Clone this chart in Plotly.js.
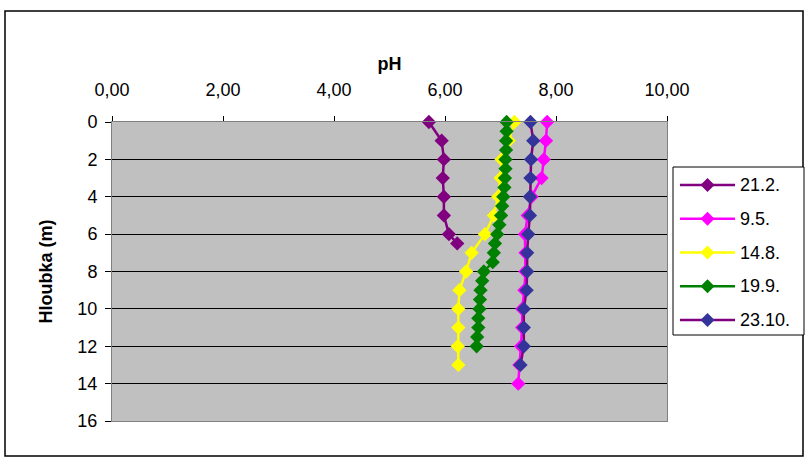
<!DOCTYPE html>
<html>
<head>
<meta charset="utf-8">
<script src="https://cdn.plot.ly/plotly-3.0.1.min.js"></script>
<style>html,body{margin:0;padding:0;background:#fff;}#chart{width:805px;height:457px;}</style>
</head>
<body>
<div id="chart"></div>
<script>
// Series names
const seriesNames = ['21.2.', '9.5.', '14.8.', '19.9.', '23.10.'];

// Depths (m) and pH values
const depth_212 = [0, 1, 2, 3, 4, 5, 6, 6.5];
const ph_212    = [5.71, 5.94, 5.98, 5.96, 5.98, 5.98, 6.07, 6.22];

const depth_95 = [0, 1, 2, 3, 4, 5, 6, 7, 8, 9, 10, 11, 12, 13, 14];
const ph_95    = [7.84, 7.82, 7.78, 7.74, 7.56, 7.49, 7.44, 7.45, 7.45, 7.43, 7.39, 7.39, 7.37, 7.34, 7.32];

const depth_148 = [0, 1, 2, 3, 4, 5, 6, 7, 8, 9, 10, 11, 12, 13];
const ph_148    = [7.25, 7.15, 7.02, 7.00, 6.96, 6.88, 6.72, 6.48, 6.38, 6.26, 6.24, 6.24, 6.23, 6.24];

const depth_199 = [0, 0.5, 1, 1.5, 2, 2.5, 3, 3.5, 4, 4.5, 5, 5.5, 6, 6.5, 7, 7.5, 8, 8.5, 9, 9.5, 10, 10.5, 11, 11.5, 12];
const ph_199    = [7.11, 7.11, 7.10, 7.10, 7.09, 7.09, 7.08, 7.07, 7.05, 7.03, 7.01, 6.98, 6.94, 6.90, 6.88, 6.86, 6.70, 6.67, 6.64, 6.63, 6.62, 6.60, 6.60, 6.58, 6.57];

const depth_2310 = [0, 1, 2, 3, 4, 5, 6, 7, 8, 9, 10, 11, 12, 13];
const ph_2310    = [7.54, 7.59, 7.55, 7.54, 7.53, 7.53, 7.50, 7.48, 7.48, 7.47, 7.42, 7.42, 7.42, 7.36];

const xTickVals = [0, 2, 4, 6, 8, 10];
const yTickVals = [0, 2, 4, 6, 8, 10, 12, 14, 16];

const lineColors   = ['#800080', '#FF00FF', '#FFFF00', '#008000', '#800080'];
const markerColors = ['#800080', '#FF00FF', '#FFFF00', '#008000', '#333399'];

const xs = [ph_212, ph_95, ph_148, ph_199, ph_2310];
const ys = [depth_212, depth_95, depth_148, depth_199, depth_2310];

const traces = seriesNames.map((n, i) => ({
  type: 'scatter',
  mode: 'lines+markers',
  name: n,
  showlegend: false,
  x: xs[i],
  y: ys[i],
  line: {color: lineColors[i], width: 2.5},
  marker: {symbol: 'diamond', size: 11, color: markerColors[i], line: {width: 0}},
  cliponaxis: false
}));

const font = {family: 'Liberation Sans, Arial, sans-serif', size: 18, color: '#000'};

// plot area in pixels (fixed margins)
const L = 112, R = 667, T = 122, B = 421;
const px = v => (v - L) / (R - L);
const py = v => (B - v) / (B - T);

// Legend (drawn as shapes + text annotations)
const legTop = 167, legBottom = 335, legLeft = 673, legRight = 804;
const legY0 = 185, legStep = 33.75;
const shapes = [{
  type: 'rect', xref: 'paper', yref: 'paper',
  x0: px(5), x1: px(803), y0: py(456), y1: py(11),
  line: {color: '#000', width: 1.5}, fillcolor: 'rgba(0,0,0,0)', layer: 'below'
}, {
  type: 'rect', xref: 'paper', yref: 'paper',
  x0: px(legLeft), x1: px(legRight), y0: py(legBottom), y1: py(legTop),
  line: {color: '#000', width: 1}, fillcolor: '#fff', layer: 'above'
}];
const annotations = [];
seriesNames.forEach((n, i) => {
  const yy = legY0 + i * legStep;
  shapes.push({
    type: 'line', xref: 'paper', yref: 'paper',
    x0: px(680), x1: px(735), y0: py(yy), y1: py(yy),
    line: {color: lineColors[i], width: 2.5}, layer: 'above'
  });
  shapes.push({
    type: 'path', xref: 'paper', yref: 'paper',
    xsizemode: 'pixel', ysizemode: 'pixel',
    xanchor: px(707.5), yanchor: py(yy),
    path: 'M-7,0 L0,7 L7,0 L0,-7 Z',
    fillcolor: markerColors[i], line: {width: 0}, layer: 'above'
  });
  annotations.push({
    xref: 'paper', yref: 'paper', x: px(738), y: py(yy),
    xanchor: 'left', yanchor: 'middle', showarrow: false,
    text: n, font: font
  });
});

const layout = {
  width: 805, height: 457,
  margin: {l: L, r: 805 - R, t: T, b: 457 - B, autoexpand: false},
  paper_bgcolor: '#fff',
  plot_bgcolor: '#C0C0C0',
  separators: ', ',
  font: font,
  showlegend: false,
  xaxis: {
    side: 'top',
    range: [0, 10],
    tickvals: xTickVals,
    tickformat: '.2f',
    ticks: 'outside', ticklen: 5, tickcolor: '#000', tickwidth: 1,
    ticklabelstandoff: 13,
    showgrid: false, zeroline: false,
    showline: true, linecolor: '#808080', linewidth: 1, mirror: true,
    tickfont: font,
    title: {text: '<b>pH</b>', font: font, standoff: 4}
  },
  yaxis: {
    range: [16, 0],
    tickvals: yTickVals,
    ticks: 'outside', ticklen: 6, tickcolor: '#000', tickwidth: 1,
    ticklabelstandoff: 4,
    showgrid: true, gridcolor: '#000', gridwidth: 1,
    zeroline: false,
    showline: true, linecolor: '#808080', linewidth: 1, mirror: true,
    tickfont: font,
    title: {text: '<b>Hloubka (m)</b>', font: font, standoff: 20}
  },
  shapes: shapes,
  annotations: annotations
};

Plotly.newPlot('chart', traces, layout, {displayModeBar: false, staticPlot: true});
</script>
</body>
</html>
